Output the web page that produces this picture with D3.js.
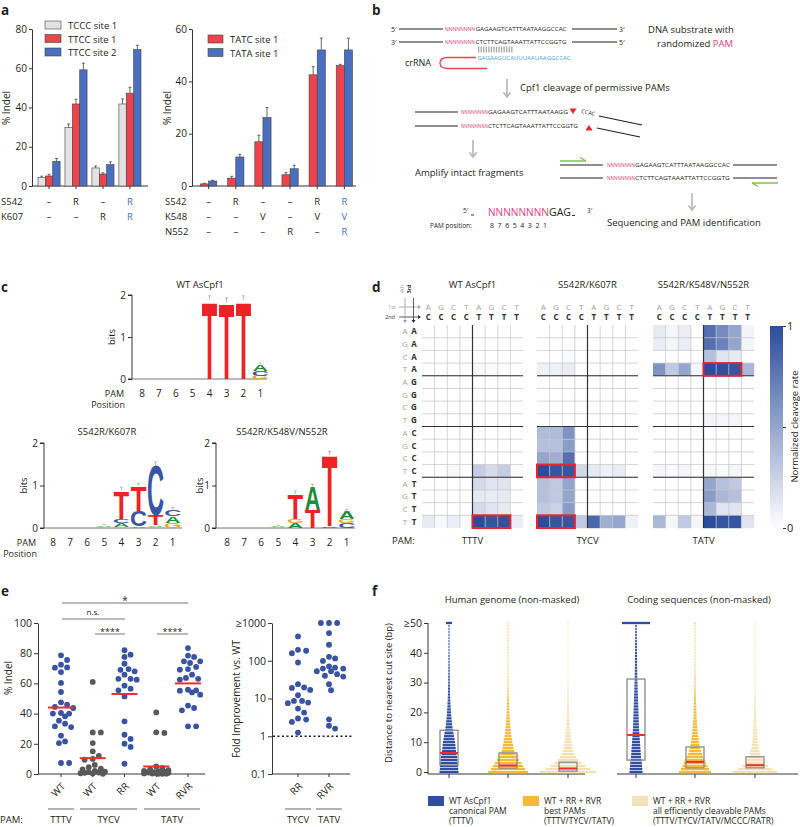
<!DOCTYPE html>
<html><head><meta charset="utf-8">
<script src="https://d3js.org/d3.v7.min.js"></script>
<style>html,body{margin:0;padding:0;background:#fff}svg{display:block}</style>
</head><body>
<svg id="fig" width="800" height="827" xmlns="http://www.w3.org/2000/svg"></svg>
<script>
// ================= DATA =================
// Panel a (left)
const aLeftGroups = ["WT", "S542R", "K607R", "S542R/K607R"];
const aLeftSeries = ["TCCC site 1", "TTCC site 1", "TTCC site 2"];
const aLeftTCCC1 = [4.3, 29.9, 9.2, 41.8];
const aLeftTTCC1 = [5.1, 41.8, 6.1, 47.3];
const aLeftTTCC2 = [12.6, 59.2, 10.9, 69.5];
const aLeftErrTCCC1 = [0.7, 1.7, 1.0, 2.6];
const aLeftErrTTCC1 = [0.9, 2.4, 0.6, 3.0];
const aLeftErrTTCC2 = [1.4, 3.4, 1.4, 2.2];
const aLeftTicks = [0, 20, 40, 60, 80];
const aLeftRowNames = ["S542", "K607"];
const aLeftS542 = ["–", "R", "–", "R"];
const aLeftK607 = ["–", "–", "R", "R"];
// Panel a (right)
const aRightGroups = ["WT", "S542R", "K548V", "N552R", "S542R/K548V", "S542R/K548V/N552R"];
const aRightSeries = ["TATC site 1", "TATA site 1"];
const aRightTATC = [0.8, 3.0, 16.9, 4.3, 42.5, 46.0];
const aRightTATA = [1.9, 11.1, 26.2, 6.6, 52.0, 52.0];
const aRightErrTATC = [0.2, 0.7, 2.5, 0.8, 3.1, 0.5];
const aRightErrTATA = [0.3, 1.0, 3.8, 1.3, 4.5, 4.5];
const aRightTicks = [0, 20, 40, 60];
const aRightRowNames = ["S542", "K548", "N552"];
const aRightS542 = ["–", "R", "–", "–", "R", "R"];
const aRightK548 = ["–", "–", "V", "–", "V", "V"];
const aRightN552 = ["–", "–", "–", "R", "–", "R"];

// Panel b (schematic sequences)
const seqTop = "GAGAAGTCATTTAATAAGGCCAC";
const seqBottom = "CTCTTCAGTAAATTATTCCGGTG";
const seqCrRNA = "GAGAAGUCAUUUAAUAAGGCCAC";
const seqCutTop = "GAGAAGTCATTTAATAAGG";
const seqCutOver = "CCAC";
const pamN = "NNNNNNNN";
const pamPositionLabels = ["8", "7", "6", "5", "4", "3", "2", "1"];

// Panel c (sequence logos), stacks bottom -> top : [letter, bits]
const logoPositions = ["8", "7", "6", "5", "4", "3", "2", "1"];
const logoTicks = [0, 1, 2];
const logoWT = [[], [], [], [["G", 0.01]], [["T", 1.88]], [["T", 1.83]], [["T", 1.88]],
  [["G", 0.08], ["C", 0.12], ["A", 0.15]]];
const logoRR = [[["G", 0.01]], [["G", 0.01]], [["G", 0.01]], [["G", 0.03], ["A", 0.03]],
  [["G", 0.02], ["A", 0.1], ["C", 0.1], ["T", 0.66]],
  [["G", 0.01], ["A", 0.03], ["C", 0.37], ["T", 0.59]],
  [["G", 0.02], ["A", 0.04], ["T", 0.24], ["C", 1.17]],
  [["G", 0.12], ["A", 0.16], ["C", 0.15]]];
const logoRVR = [[["G", 0.01]], [["G", 0.01]], [["G", 0.01]], [["G", 0.02], ["A", 0.02]],
  [["A", 0.12], ["G", 0.1], ["T", 0.58]],
  [["T", 0.43], ["A", 0.55]],
  [["C", 0.04], ["T", 1.68]],
  [["C", 0.12], ["G", 0.1], ["A", 0.17]]];
const logoErrWT = [0, 0, 0, 0, 0.1, 0.1, 0.1, 0.03];
const logoErrRR = [0, 0, 0, 0.02, 0.08, 0.05, 0.08, 0.05];
const logoErrRVR = [0, 0, 0, 0.02, 0.07, 0.05, 0.08, 0.05];

// Panel d (heatmaps) rows = 4th/3rd, cols = 1st/2nd
const dCol1st = ["A", "G", "C", "T", "A", "G", "C", "T"];
const dCol2nd = ["C", "C", "C", "C", "T", "T", "T", "T"];
const dRow4th = ["A", "G", "C", "T", "A", "G", "C", "T", "A", "G", "C", "T", "A", "G", "C", "T"];
const dRow3rd = ["A", "A", "A", "A", "G", "G", "G", "G", "C", "C", "C", "C", "T", "T", "T", "T"];
const dTitles = ["WT AsCpf1", "S542R/K607R", "S542R/K548V/N552R"];
const dPams = ["TTTV", "TYCV", "TATV"];
const heatWT = [
  [0, 0, 0, 0, 0, 0, 0, 0], [0, 0, 0, 0, 0, 0, 0, 0], [0, 0, 0, 0, 0, 0, 0, 0],
  [0, 0, 0, 0, 0.03, 0.03, 0.02, 0],
  [0, 0, 0, 0, 0, 0, 0, 0], [0, 0, 0, 0, 0, 0, 0, 0], [0, 0, 0, 0, 0, 0, 0, 0], [0, 0, 0, 0, 0, 0, 0, 0],
  [0, 0, 0, 0, 0, 0, 0, 0], [0, 0, 0, 0, 0, 0, 0, 0], [0, 0, 0, 0, 0, 0, 0, 0],
  [0, 0, 0.04, 0, 0.28, 0.2, 0.28, 0.02],
  [0, 0, 0, 0, 0.2, 0.15, 0.15, 0],
  [0, 0, 0, 0, 0.12, 0.1, 0.12, 0],
  [0, 0, 0, 0, 0.2, 0.15, 0.12, 0],
  [0.12, 0.04, 0.1, 0.03, 1, 0.95, 0.97, 0.1]];
const heatRR = [
  [0, 0, 0, 0, 0, 0, 0, 0], [0, 0, 0, 0, 0, 0, 0, 0], [0, 0, 0.03, 0, 0, 0, 0, 0],
  [0.08, 0.08, 0.1, 0, 0, 0, 0, 0],
  [0, 0, 0, 0, 0, 0, 0, 0], [0, 0, 0, 0, 0, 0, 0, 0], [0, 0, 0, 0, 0, 0, 0, 0], [0, 0, 0, 0, 0, 0, 0, 0],
  [0.38, 0.38, 0.6, 0, 0, 0, 0, 0],
  [0.35, 0.35, 0.55, 0, 0, 0, 0, 0],
  [0.5, 0.45, 0.8, 0, 0, 0, 0, 0],
  [1, 0.95, 0.95, 0.22, 0.12, 0.08, 0.1, 0],
  [0.35, 0.3, 0.5, 0, 0, 0, 0, 0],
  [0.35, 0.3, 0.5, 0, 0, 0, 0, 0],
  [0.3, 0.25, 0.55, 0, 0, 0, 0, 0],
  [1, 0.95, 0.95, 0.3, 0.85, 0.45, 0.5, 0.08]];
const heatRVR = [
  [0.12, 0.05, 0.1, 0, 0.8, 0.65, 0.5, 0.06],
  [0.1, 0.05, 0.1, 0, 0.8, 0.7, 0.5, 0.06],
  [0, 0, 0, 0, 0.35, 0.15, 0.12, 0],
  [0.6, 0.3, 0.5, 0.05, 1, 0.98, 0.95, 0.4],
  [0, 0, 0, 0, 0, 0, 0, 0], [0, 0, 0, 0, 0, 0, 0, 0], [0, 0, 0, 0, 0, 0, 0, 0],
  [0, 0, 0, 0, 0.06, 0.05, 0.05, 0],
  [0, 0, 0, 0, 0, 0, 0, 0], [0, 0, 0, 0, 0, 0, 0, 0], [0, 0, 0, 0, 0, 0, 0, 0],
  [0.05, 0.02, 0.05, 0, 0.05, 0.03, 0.05, 0],
  [0, 0, 0, 0, 0.5, 0.35, 0.3, 0],
  [0, 0, 0, 0, 0.55, 0.4, 0.35, 0],
  [0, 0, 0, 0, 0.4, 0.15, 0.15, 0],
  [0.4, 0.05, 0.3, 0.05, 1, 0.95, 0.95, 0.15]];
// highlighted boxes: [row, firstCol, lastCol]
const heatBoxWT = [[15, 4, 6]];
const heatBoxRR = [[11, 0, 2], [15, 0, 2]];
const heatBoxRVR = [[3, 4, 6]];

// Panel e
const eCats = ["WT", "WT ", "RR", "WT  ", "RVR"];
const eCatLabels = ["WT", "WT", "RR", "WT", "RVR"];
const ePamGroups = ["TTTV", "TYCV", "TATV"];
const eWT_TTTV = [78.6, 75.5, 72.4, 70.4, 70.6, 67.5, 60.3, 54.3, 47.5, 45.9, 44.4, 43.7, 40.4, 40, 40, 38.2, 35.3, 33.3, 31.6, 31.1, 25.4, 21.6, 20.5, 7.3, 7.3];
const eWT_TYCV = [61, 27.5, 27.5, 20.5, 15, 12, 10, 9.5, 6, 4.5, 3.5, 3, 2, 1.5, 1.2, 1, 0.8, 0.5, 0.3, 0.1];
const eRR_TYCV = [82, 79, 77.5, 73, 69.5, 69, 68, 65.8, 63, 63, 62.5, 58.5, 56.5, 55.4, 51.4, 34.9, 26, 23.2, 20.1, 17.9, 6.8];
const eWT_TATV = [40.8, 27.6, 27.2, 5, 4, 3, 2.5, 2, 1.8, 1.5, 1.2, 1, 0.8, 0.6, 0.5, 0.4, 0.3, 0.2, 0.1, 0.1];
const eRVR_TATV = [83.4, 78.4, 77.5, 74.6, 74.6, 73.5, 70.9, 69.5, 69.1, 65.8, 63.6, 63, 62.5, 55.8, 55.4, 55.2, 54, 52.5, 45.3, 43.7, 42.2, 31.6, 31.6];
const eCenterLines = [44, 10.5, 53, 5, 60];
const eTicks = [0, 20, 40, 60, 80, 100];
const foldCats = ["RR", "RVR"];
const foldPams = ["TYCV", "TATV"];
const foldRR = [442, 195, 184, 158, 90, 24, 19.7, 19.1, 16.9, 12.2, 8.6, 8.6, 7.8, 7.5, 5.4, 4.25, 2.95, 2.77, 2.4, 1.25];
const foldRVR = [1000, 1000, 1000, 540, 265, 127, 115, 99, 71, 66, 62, 62, 53, 53, 44, 40, 38, 24, 16.6, 2.8, 1.9, 1.6];
const foldTicks = [0.1, 1, 10, 100, 1000];

// Panel f : share of sites (%) per distance 0..49, last entry = >=50
const fTitles = ["Human genome (non-masked)", "Coding sequences (non-masked)"];
const fTicks = [0, 10, 20, 30, 40, 50];
const fHumanWT = [9.5, 9.2, 9, 8.7, 8.4, 8, 7.5, 7, 6.7, 6.4, 6, 5.5, 5, 4.5, 4, 3.5, 3, 2.8, 2.5, 2.2, 2, 1.8, 1.6, 1.5, 1.3, 1.2, 1.1, 1, 1, 0.9, 0.8, 0.8, 0.8, 0.7, 0.7, 0.7, 0.6, 0.6, 0.6, 0.6, 0.5, 0.5, 0.5, 0.5, 0.5, 0.5, 0.5, 0.5, 0.5, 0.5, 3];
const fHumanBest = [20, 17, 15, 13, 11, 9, 7.5, 6.5, 5.5, 5, 4.5, 4, 3.5, 3, 2.8, 2.5, 2.2, 2, 1.8, 1.5, 1.4, 1.2, 1.1, 1, 0.9, 0.8, 0.7, 0.6, 0.5, 0.5, 0.45, 0.4, 0.4, 0.35, 0.35, 0.3, 0.3, 0.3, 0.25, 0.25, 0.25, 0.2, 0.2, 0.2, 0.2, 0.2, 0.2, 0.2, 0.2, 0.2, 0.3];
const fHumanAll = [28.5, 22.5, 17.5, 13.5, 10.5, 8, 6.5, 5.5, 4.5, 4, 3.5, 3, 2.7, 2.4, 2.1, 1.9, 1.7, 1.5, 1.3, 1.2, 1.1, 1, 0.9, 0.8, 0.7, 0.6, 0.6, 0.5, 0.5, 0.45, 0.4, 0.4, 0.35, 0.35, 0.3, 0.3, 0.3, 0.25, 0.25, 0.25, 0.2, 0.2, 0.2, 0.2, 0.2, 0.2, 0.2, 0.2, 0.2, 0.2, 0.3];
const fCodingWT = [6.5, 6.3, 6, 5.8, 5.5, 5, 4.8, 4.6, 4.4, 4.2, 4, 3.8, 3.6, 3.4, 3.2, 3, 2.9, 2.8, 2.7, 2.6, 2.5, 2.4, 2.3, 2.2, 2.1, 2, 1.9, 1.8, 1.7, 1.6, 1.5, 1.4, 1.3, 1.3, 1.2, 1.2, 1.1, 1.1, 1, 1, 1, 0.9, 0.9, 0.9, 0.8, 0.8, 0.8, 0.8, 0.7, 0.7, 14];
const fCodingBest = [16, 14, 12.5, 11, 9.5, 8, 7, 6, 5.2, 4.5, 4, 3.6, 3.2, 2.9, 2.6, 2.3, 2.1, 1.9, 1.7, 1.5, 1.4, 1.3, 1.2, 1.1, 1, 0.9, 0.8, 0.7, 0.6, 0.6, 0.5, 0.5, 0.45, 0.4, 0.4, 0.35, 0.35, 0.3, 0.3, 0.3, 0.25, 0.25, 0.25, 0.2, 0.2, 0.2, 0.2, 0.2, 0.2, 0.2, 0.4];
const fCodingAll = [22.5, 17, 13, 10, 8, 6.5, 5.3, 4.4, 3.7, 3.2, 2.8, 2.5, 2.2, 2, 1.8, 1.6, 1.4, 1.3, 1.2, 1.1, 1, 0.9, 0.8, 0.7, 0.65, 0.6, 0.55, 0.5, 0.45, 0.4, 0.4, 0.35, 0.35, 0.3, 0.3, 0.3, 0.25, 0.25, 0.25, 0.2, 0.2, 0.2, 0.2, 0.2, 0.2, 0.2, 0.2, 0.2, 0.2, 0.2, 0.3];
// box stats [q1, median, q3]
const fBoxHuman = [[2.3, 6.4, 14], [1.3, 2.2, 6.4], [0.3, 1.2, 3.3]];
const fBoxCoding = [[4, 12.4, 31.2], [1.4, 3.4, 8.4], [1.4, 2.3, 5.1]];
const fLegend = [
  ["WT AsCpf1", "canonical PAM", "(TTTV)"],
  ["WT + RR + RVR", "best PAMs", "(TTTV/TYCV/TATV)"],
  ["WT + RR + RVR", "all efficiently cleavable PAMs", "(TTTV/TYCV/TATV/MCCC/RATR)"]];

// ================= DRAWING =================
const F = '"Open Sans", "Noto Sans", sans-serif';
const INK = "#231f20";
const RED = "#ee434d", BLUE = "#4a6fbe", LGRAY = "#e2e2e2";
const PINK = "#e4417e";
const svg = d3.select("#fig").attr("font-family", F);

function T(g, x, y, s, o = {}) {
  const t = g.append("text").attr("x", x).attr("y", y).text(s)
    .attr("font-size", o.fs || 10).attr("fill", o.fill || INK)
    .attr("text-anchor", o.anchor || "start");
  if (o.weight) t.attr("font-weight", o.weight);
  if (o.family) t.attr("font-family", o.family);
  if (o.rotate != null) t.attr("transform", `rotate(${o.rotate},${x},${y})`);
  if (o.len) t.attr("textLength", o.len).attr("lengthAdjust", "spacingAndGlyphs");
  return t;
}
function L(g, x1, y1, x2, y2, stroke = INK, w = 1, dash) {
  const l = g.append("line").attr("x1", x1).attr("y1", y1).attr("x2", x2).attr("y2", y2)
    .attr("stroke", stroke).attr("stroke-width", w);
  if (dash) l.attr("stroke-dasharray", dash);
  return l;
}
function styleAxis(g, fs = 10) {
  g.attr("font-family", F).attr("font-size", fs);
  g.selectAll("line,path").attr("stroke", INK).attr("stroke-width", 0.9);
  g.selectAll("text").attr("fill", INK);
}

// panel letters
[["a", 1, 15], ["b", 372, 15], ["c", 1, 292], ["d", 372, 292], ["e", 1, 596], ["f", 372, 596]].forEach(([s, x, y]) =>
  T(svg, x, y, s, { fs: 13.5, weight: "bold" }));

// ---------- Panel a left ----------
(function () {
  const g = svg.append("g");
  const y = d3.scaleLinear().domain([0, 80]).range([186, 29]);
  const x = d3.scaleBand().domain(d3.range(aLeftGroups.length)).range([38, 141]).paddingInner(0.18);
  const xs = d3.scaleBand().domain(d3.range(3)).range([0, x.bandwidth()]);
  const vals = [aLeftTCCC1, aLeftTTCC1, aLeftTTCC2];
  const errs = [aLeftErrTCCC1, aLeftErrTTCC1, aLeftErrTTCC2];
  const cols = [LGRAY, RED, BLUE];
  const ax = g.append("g").attr("transform", "translate(32,0)")
    .call(d3.axisLeft(y).tickValues(aLeftTicks).tickSize(3).tickSizeOuter(0).tickPadding(2));
  styleAxis(ax);
  L(g, 32, 186, 148, 186, INK, 0.9);
  aLeftGroups.forEach((_, i) => {
    L(g, x(i) + x.bandwidth() / 2, 186, x(i) + x.bandwidth() / 2, 189, INK, 0.9);
    vals.forEach((v, s) => {
      const bx = x(i) + xs(s), bw = xs.bandwidth();
      g.append("rect").attr("x", bx).attr("y", y(v[i])).attr("width", bw).attr("height", y(0) - y(v[i]))
        .attr("fill", cols[s]).attr("stroke", "#444").attr("stroke-width", 0.6);
      const cx = bx + bw / 2;
      L(g, cx, y(v[i]), cx, y(v[i] + errs[s][i]), "#444", 0.8);
      L(g, cx - 1.5, y(v[i] + errs[s][i]), cx + 1.5, y(v[i] + errs[s][i]), "#444", 0.8);
    });
  });
  aLeftSeries.forEach((s, k) => {
    g.append("rect").attr("x", 45).attr("y", 21 + k * 13.5).attr("width", 16).attr("height", 8)
      .attr("fill", cols[k]).attr("stroke", "#444").attr("stroke-width", 0.6);
    T(g, 68, 29 + k * 13.5, s, { fs: 9.5 });
  });
  T(g, 10, 108, "% Indel", { rotate: -90, anchor: "middle" });
  const rows = [aLeftS542, aLeftK607];
  aLeftRowNames.forEach((r, k) => {
    T(g, 1, 205 + k * 15, r, { fs: 9.5 });
    rows[k].forEach((v, i) => T(g, x(i) + x.bandwidth() / 2, 205 + k * 15, v,
      { fs: 9.5, anchor: "middle", fill: i === aLeftGroups.length - 1 ? BLUE : INK }));
  });
})();

// ---------- Panel a right ----------
(function () {
  const g = svg.append("g");
  const y = d3.scaleLinear().domain([0, 60]).range([186, 29]);
  const x = d3.scaleBand().domain(d3.range(aRightGroups.length)).range([200.5, 352.5]).paddingInner(0.4);
  const xs = d3.scaleBand().domain(d3.range(2)).range([0, x.bandwidth()]);
  const vals = [aRightTATC, aRightTATA];
  const errs = [aRightErrTATC, aRightErrTATA];
  const cols = [RED, BLUE];
  const ax = g.append("g").attr("transform", "translate(192,0)")
    .call(d3.axisLeft(y).tickValues(aRightTicks).tickSize(3).tickSizeOuter(0).tickPadding(2));
  styleAxis(ax);
  L(g, 192, 186, 356, 186, INK, 0.9);
  aRightGroups.forEach((_, i) => {
    L(g, x(i) + x.bandwidth() / 2, 186, x(i) + x.bandwidth() / 2, 189, INK, 0.9);
    vals.forEach((v, s) => {
      const bx = x(i) + xs(s), bw = xs.bandwidth();
      g.append("rect").attr("x", bx).attr("y", y(v[i])).attr("width", bw).attr("height", y(0) - y(v[i]))
        .attr("fill", cols[s]).attr("stroke", "#444").attr("stroke-width", 0.6);
      const cx = bx + bw / 2;
      L(g, cx, y(v[i]), cx, y(v[i] + errs[s][i]), "#444", 0.8);
      L(g, cx - 1.5, y(v[i] + errs[s][i]), cx + 1.5, y(v[i] + errs[s][i]), "#444", 0.8);
    });
  });
  aRightSeries.forEach((s, k) => {
    g.append("rect").attr("x", 208).attr("y", 35 + k * 13.5).attr("width", 15).attr("height", 8)
      .attr("fill", cols[k]).attr("stroke", "#444").attr("stroke-width", 0.6);
    T(g, 230, 43 + k * 13.5, s, { fs: 9.5 });
  });
  T(g, 171, 108, "% Indel", { rotate: -90, anchor: "middle" });
  const rows = [aRightS542, aRightK548, aRightN552];
  aRightRowNames.forEach((r, k) => {
    T(g, 165, 205 + k * 15, r, { fs: 9.5 });
    rows[k].forEach((v, i) => T(g, x(i) + x.bandwidth() / 2, 205 + k * 15, v,
      { fs: 9.5, anchor: "middle", fill: i === aRightGroups.length - 1 ? BLUE : INK }));
  });
})();

// ---------- Panel b ----------
(function () {
  const g = svg.append("g");
  const sf = 5.6, ARW = "#b5b5b5";
  function arrowDown(x, y1, y2) {
    L(g, x, y1, x, y2, ARW, 1.6);
    g.append("path").attr("d", `M${x - 3.5},${y2 - 4.5}L${x},${y2}L${x + 3.5},${y2 - 4.5}`)
      .attr("fill", "none").attr("stroke", ARW).attr("stroke-width", 1.6);
  }
  // substrate
  T(g, 391, 31.5, "5′", { fs: 7 }); L(g, 399, 29, 443, 29, INK, 1.2);
  T(g, 445, 31, pamN, { fs: sf, fill: PINK, len: 30 });
  T(g, 475.5, 31, seqTop, { fs: sf, len: 91 });
  L(g, 572, 29, 617, 29, INK, 1.2); T(g, 619, 31.5, "3′", { fs: 7 });
  T(g, 391, 44.5, "3′", { fs: 7 }); L(g, 399, 42, 443, 42, INK, 1.2);
  T(g, 445, 44, pamN, { fs: sf, fill: PINK, len: 30 });
  T(g, 475.5, 44, seqBottom, { fs: sf, len: 91 });
  L(g, 572, 42, 617, 42, INK, 1.2); T(g, 619, 44.5, "5′", { fs: 7 });
  d3.range(14).forEach(i => g.append("rect").attr("x", 478 + i * 2.55).attr("y", 46.5)
    .attr("width", 1.3).attr("height", 6).attr("fill", "#a8a8a8"));
  // crRNA
  T(g, 405, 66, "crRNA", { fs: 9 });
  g.append("path").attr("d", "M476,57.5L448,57.5Q440,57.5 440,63Q440,68.5 448,68.5L487,68.5")
    .attr("fill", "none").attr("stroke", RED).attr("stroke-width", 1.3);
  T(g, 477.5, 59.5, seqCrRNA, { fs: sf, fill: "#45a6df", len: 93 });
  T(g, 648, 33, "DNA substrate with", { fs: 9.5 });
  const t1 = T(g, 657, 47, "randomized ", { fs: 9.5 });
  t1.append("tspan").attr("fill", PINK).text("PAM");
  // cleavage
  arrowDown(507, 79, 97);
  T(g, 520, 91, "Cpf1 cleavage of permissive PAMs", { fs: 9.5 });
  L(g, 415, 112, 458, 112, INK, 1.2);
  T(g, 461, 114, pamN, { fs: sf, fill: PINK, len: 27 });
  T(g, 488, 114, seqCutTop, { fs: sf, len: 80 });
  g.append("path").attr("d", "M569.5,108.5L576.5,108.5L573,114Z").attr("fill", "#e4262b");
  g.append("text").attr("font-size", sf).attr("fill", INK)
    .attr("transform", "translate(581,113) rotate(12)").text(seqCutOver);
  L(g, 599, 116, 642, 125, INK, 1.2);
  L(g, 415, 126, 458, 126, INK, 1.2);
  T(g, 461, 128, pamN, { fs: sf, fill: PINK, len: 27 });
  T(g, 488, 128, seqBottom, { fs: sf, len: 90 });
  g.append("path").attr("d", "M585.5,130.5L592.5,130.5L589,125Z").attr("fill", "#e4262b");
  L(g, 597, 128, 640, 137, INK, 1.2);
  // amplify
  arrowDown(473, 140, 157);
  T(g, 415, 176, "Amplify intact fragments", { fs: 9.5 });
  const GR = "#7ac143";
  L(g, 560, 161, 586, 161, GR, 1.4);
  L(g, 586, 161, 580, 157.5, GR, 1.4);
  L(g, 560, 165, 603, 165, INK, 1.2);
  T(g, 607, 167, pamN, { fs: sf - 0.6, fill: PINK, len: 28 });
  T(g, 635, 167, seqTop, { fs: sf - 0.6, len: 95 });
  L(g, 733, 165, 777, 165, INK, 1.2);
  L(g, 560, 178, 603, 178, INK, 1.2);
  T(g, 607, 180, pamN, { fs: sf - 0.6, fill: PINK, len: 28 });
  T(g, 635, 180, seqBottom, { fs: sf - 0.6, len: 95 });
  L(g, 733, 178, 777, 178, INK, 1.2);
  L(g, 752, 183, 778, 183, GR, 1.4);
  L(g, 752, 183, 758, 186.5, GR, 1.4);
  arrowDown(692, 193, 210);
  T(g, 607, 226, "Sequencing and PAM identification", { fs: 9.5 });
  // PAM position key
  T(g, 463, 213, "5′", { fs: 6.5 });
  L(g, 471, 215, 474, 215, INK, 0.9);
  T(g, 488, 216, pamN, { fs: 11, fill: PINK, len: 61 });
  T(g, 549, 216, "GAG", { fs: 11, len: 22 });
  L(g, 572, 215.5, 575, 215.5, INK, 0.9);
  T(g, 587, 213, "3′", { fs: 6.5 });
  T(g, 430, 228, "PAM position:", { fs: 6.5 });
  const px = d3.scalePoint().domain(pamPositionLabels).range([492, 545]);
  pamPositionLabels.forEach(p => T(g, px(p), 228, p, { fs: 7, anchor: "middle" }));
})();

// ---------- Panel c ----------
const LOGO = { T: "#ed2224", C: "#3955a5", A: "#1b8e3b", G: "#f6a21b" };
const INKW = { T: 6.0, A: 7.1, C: 6.5, G: 6.9 };
function drawLogo(cfg, data, errs) {
  const g = svg.append("g");
  const y = d3.scaleLinear().domain([0, 2]).range([cfg.y0, cfg.y0 - 2 * cfg.ppb]);
  const x = d3.scalePoint().domain(logoPositions).range([cfg.x0, cfg.x0 + 7 * cfg.step]);
  const ax = g.append("g").attr("transform", `translate(${cfg.ax},0)`)
    .call(d3.axisLeft(y).tickValues(logoTicks).tickFormat(d3.format("d")).tickSize(4).tickSizeOuter(0).tickPadding(2));
  styleAxis(ax);
  ax.select(".domain").attr("d", `M-4,${y(0)}H0V${y(2)}H-4`);
  L(g, cfg.ax, cfg.y0, cfg.xEnd, cfg.y0, "#666", 0.9);
  const w = cfg.step * 0.9;
  data.forEach((stack, i) => {
    const cx = x(logoPositions[i]);
    let base = 0;
    stack.forEach(([l, h]) => {
      const hp = y(base) - y(base + h);
      g.append("text").text(l).attr("font-family", '"Liberation Sans", Arial, sans-serif')
        .attr("font-weight", "bold").attr("font-size", 10).attr("text-anchor", "middle")
        .attr("fill", LOGO[l])
        .attr("transform", `translate(${cx},${y(base)}) scale(${w / INKW[l]},${hp / 7.16})`);
      base += h;
    });
    if (errs[i] > 0) {
      L(g, cx, y(base), cx, y(base + errs[i]), "#aaa", 0.8);
      L(g, cx - 1.5, y(base + errs[i]), cx + 1.5, y(base + errs[i]), "#aaa", 0.8);
    }
    T(g, cx, cfg.y0 + 18, logoPositions[i], { fs: 10, anchor: "middle" });
  });
  T(g, cfg.tx, cfg.ty, cfg.title, { fs: 9.5, anchor: "middle" });
  T(g, cfg.bx, (cfg.y0 + y(2)) / 2, "bits", { rotate: -90, anchor: "middle", fs: 9.5 });
  if (cfg.pam) {
    T(g, cfg.ax - 8, cfg.y0 + 18, "PAM", { fs: 9, anchor: "end" });
    T(g, cfg.ax - 7, cfg.y0 + 29, "Position", { fs: 9, anchor: "end" });
  }
}
drawLogo({ y0: 379, ppb: 42, ax: 132, x0: 142, step: 16.9, xEnd: 267, title: "WT AsCpf1", tx: 200, ty: 288, bx: 115, pam: true }, logoWT, logoErrWT);
drawLogo({ y0: 528, ppb: 42.5, ax: 44, x0: 53, step: 17.1, xEnd: 182, title: "S542R/K607R", tx: 107, ty: 435, bx: 27, pam: true }, logoRR, logoErrRR);
drawLogo({ y0: 528, ppb: 42.5, ax: 216, x0: 227, step: 17.1, xEnd: 355, title: "S542R/K548V/N552R", tx: 282, ty: 435, bx: 203, pam: false }, logoRVR, logoErrRVR);

// ---------- Panel d ----------
(function () {
  const g = svg.append("g");
  const HB = "#2b4c9c";
  const col = d3.scaleLinear().domain([0, 1]).range(["#ffffff", HB]).interpolate(d3.interpolateRgb);
  const x0s = [422, 537, 653];
  const top = 325, bottom = 528;
  const heats = [heatWT, heatRR, heatRVR];
  const boxes = [heatBoxWT, heatBoxRR, heatBoxRVR];
  const yb = d3.scaleBand().domain(d3.range(16)).range([top, bottom]);
  heats.forEach((H, k) => {
    const xb = d3.scaleBand().domain(d3.range(8)).range([x0s[k], x0s[k] + 101]);
    const gg = g.append("g");
    H.forEach((row, r) => row.forEach((v, c) => {
      gg.append("rect").attr("x", xb(c)).attr("y", yb(r)).attr("width", xb.bandwidth() + 0.2)
        .attr("height", yb.bandwidth() + 0.2).attr("fill", col(v));
    }));
    d3.range(1, 8).forEach(c => L(gg, xb(c), top, xb(c), bottom, "#c4c4c4", 0.7));
    d3.range(1, 16).forEach(r => L(gg, xb(0), yb(r), xb(7) + xb.bandwidth(), yb(r), "#c4c4c4", 0.7));
    L(gg, xb(4), top, xb(4), bottom, "#333", 1.2);
    [4, 8, 12].forEach(r => L(gg, xb(0), yb(r), xb(7) + xb.bandwidth(), yb(r), "#333", 1.2));
    boxes[k].forEach(([r, c1, c2]) => gg.append("rect").attr("x", xb(c1)).attr("y", yb(r))
      .attr("width", xb(c2) + xb.bandwidth() - xb(c1)).attr("height", yb.bandwidth())
      .attr("fill", "none").attr("stroke", "#e4262b").attr("stroke-width", 2));
    dCol1st.forEach((s, c) => T(gg, xb(c) + xb.bandwidth() / 2, 310, s, { fs: 8, anchor: "middle", fill: "#a0a0a0" }));
    dCol2nd.forEach((s, c) => T(gg, xb(c) + xb.bandwidth() / 2, 320, s, { fs: 8, anchor: "middle", weight: "bold", fill: "#333" }));
    T(gg, x0s[k] + 50.5, 288, dTitles[k], { fs: 9.5, anchor: "middle" });
    T(gg, x0s[k] + 50.5, 544, dPams[k], { fs: 9.5, anchor: "middle" });
  });
  dRow4th.forEach((s, r) => T(g, 405, yb(r) + yb.bandwidth() / 2 + 3, s, { fs: 8, anchor: "middle", fill: "#a0a0a0" }));
  dRow3rd.forEach((s, r) => T(g, 414, yb(r) + yb.bandwidth() / 2 + 3, s, { fs: 8, anchor: "middle", weight: "bold", fill: "#333" }));
  T(g, 392, 544, "PAM:", { fs: 9.5 });
  // corner key
  T(g, 388, 309, "1st", { fs: 5.5, fill: "#a0a0a0" });
  T(g, 385, 319, "2nd", { fs: 5.5, fill: "#333" });
  T(g, 403.5, 289, "4th", { fs: 5.5, fill: "#a0a0a0", rotate: -90, anchor: "middle" });
  T(g, 410.5, 289, "3rd", { fs: 5.5, fill: "#333", rotate: -90, anchor: "middle", weight: "bold" });
  L(g, 399, 307, 419, 307, "#a0a0a0", 0.8);
  g.append("path").attr("d", "M418,305L421,307L418,309Z").attr("fill", "#a0a0a0");
  L(g, 399, 317, 419, 317, "#333", 0.8);
  g.append("path").attr("d", "M418,315L421,317L418,319Z").attr("fill", "#333");
  L(g, 405, 298, 405, 321, "#a0a0a0", 0.8);
  g.append("path").attr("d", "M403,320L405,323L407,320Z").attr("fill", "#a0a0a0");
  L(g, 413.5, 298, 413.5, 321, "#333", 0.8);
  g.append("path").attr("d", "M411.5,320L413.5,323L415.5,320Z").attr("fill", "#333");
  // colour bar
  const defs = svg.append("defs");
  const lg = defs.append("linearGradient").attr("id", "hgrad").attr("x1", 0).attr("y1", 1).attr("x2", 0).attr("y2", 0);
  [0, 0.25, 0.5, 0.75, 1].forEach(t => lg.append("stop").attr("offset", t).attr("stop-color", col(t)));
  const cy = d3.scaleLinear().domain([0, 1]).range([bottom, top + 1]);
  g.append("rect").attr("x", 770).attr("y", cy(1)).attr("width", 13).attr("height", cy(0) - cy(1)).attr("fill", "url(#hgrad)");
  const cax = g.append("g").attr("transform", "translate(783,0)")
    .call(d3.axisRight(cy).tickValues([0, 0.5, 1]).tickFormat(d => d === 0.5 ? "" : d).tickSize(3).tickSizeOuter(0).tickPadding(1));
  styleAxis(cax, 11);
  cax.select(".domain").remove();
  T(g, 798, (top + bottom) / 2, "Normalized cleavage rate", { rotate: -90, anchor: "middle", fs: 9.5 });
})();

// ---------- Panel e ----------
function swarm(vals, yScale, cx, r, maxHalf) {
  const pts = vals.map(v => ({ v, y: yScale(v) })).sort((a, b) => a.y - b.y);
  const placed = [];
  const cands = [0];
  for (let k = 1; k < 30; k++) { cands.push(k * r * 0.7, -k * r * 0.7); }
  pts.forEach(p => {
    let best = null, bestOv = 1e9;
    for (const dx of cands) {
      if (Math.abs(dx) > maxHalf) continue;
      let ov = 0;
      placed.forEach(q => { const d = Math.hypot(q.dx - dx, q.y - p.y); if (d < 2 * r + 0.4) ov = Math.max(ov, 2 * r + 0.4 - d); });
      if (ov === 0) { best = dx; break; }
      if (ov < bestOv) { bestOv = ov; best = dx; }
    }
    p.dx = best; p.x = cx + best; placed.push(p);
  });
  return pts;
}
(function () {
  const g = svg.append("g");
  const y = d3.scaleLinear().domain([0, 100]).range([774, 623]);
  const x = d3.scalePoint().domain(eCats).range([61, 188]);
  const ax = g.append("g").attr("transform", "translate(38,0)")
    .call(d3.axisLeft(y).tickValues(eTicks).tickSize(4).tickSizeOuter(0).tickPadding(2));
  styleAxis(ax, 10.5);
  L(g, 38, 774, 205, 774, INK, 0.9);
  const sets = [eWT_TTTV, eWT_TYCV, eRR_TYCV, eWT_TATV, eRVR_TATV];
  const colors = ["#3853a4", "#58595b", "#3853a4", "#58595b", "#3853a4"];
  sets.forEach((vals, i) => {
    const cx = x(eCats[i]);
    L(g, cx, 774, cx, 777, INK, 0.9);
    swarm(vals, y, cx, 2.9, 14).forEach(p => g.append("circle").attr("cx", p.x).attr("cy", p.y).attr("r", 2.9).attr("fill", colors[i]));
    L(g, cx - 13, y(eCenterLines[i]), cx + 13, y(eCenterLines[i]), "#ee2e2e", 2);
    g.append("text").text(eCatLabels[i]).attr("font-size", 10).attr("text-anchor", "end").attr("fill", INK)
      .attr("transform", `translate(${cx + 5},${787}) rotate(-45)`);
  });
  // significance
  const SG = "#777";
  L(g, 62, 603, 188, 603, SG, 1); T(g, 125, 604, "*", { fs: 10, anchor: "middle" });
  L(g, 62, 619, 125, 619, SG, 1); T(g, 93, 615, "n.s.", { fs: 8, anchor: "middle" });
  L(g, 95, 634, 125, 634, SG, 1); T(g, 110, 635, "****", { fs: 9, anchor: "middle" });
  L(g, 157, 634, 188, 634, SG, 1); T(g, 172.5, 635, "****", { fs: 9, anchor: "middle" });
  // pam groups
  const br = [[48, 74], [80, 137], [144, 200]];
  ePamGroups.forEach((p, k) => {
    L(g, br[k][0], 809, br[k][1], 809, "#555", 0.9);
    T(g, (br[k][0] + br[k][1]) / 2, 823, p, { fs: 9.5, anchor: "middle" });
  });
  T(g, 0, 823, "PAM:", { fs: 9.5 });
  T(g, 12, 678, "% Indel", { rotate: -90, anchor: "middle" });

  // fold improvement
  const yl = d3.scaleLog().domain([0.1, 1000]).range([774, 623]);
  const xf = d3.scalePoint().domain(foldCats).range([298, 329]);
  const ax2 = g.append("g").attr("transform", "translate(272,0)")
    .call(d3.axisLeft(yl).tickValues(foldTicks).tickFormat(d => d === 1000 ? "≥1000" : (d < 1 ? "0.1" : d3.format("d")(d)))
      .tickSize(4).tickSizeOuter(0).tickPadding(2));
  styleAxis(ax2, 10.5);
  L(g, 272, 774, 350, 774, INK, 0.9);
  L(g, 273, yl(1), 352, yl(1), INK, 1.6, "2,2.5");
  [foldRR, foldRVR].forEach((vals, i) => {
    const cx = xf(foldCats[i]);
    L(g, cx, 774, cx, 777, INK, 0.9);
    swarm(vals, yl, cx, 2.9, 15).forEach(p => g.append("circle").attr("cx", p.x).attr("cy", p.y).attr("r", 2.9).attr("fill", "#3853a4"));
    g.append("text").text(foldCats[i]).attr("font-size", 10).attr("text-anchor", "end").attr("fill", INK)
      .attr("transform", `translate(${cx + 5},${787}) rotate(-45)`);
  });
  const br2 = [[285, 311], [316, 342]];
  foldPams.forEach((p, k) => {
    L(g, br2[k][0], 809, br2[k][1], 809, "#555", 0.9);
    T(g, (br2[k][0] + br2[k][1]) / 2, 823, p, { fs: 9.5, anchor: "middle" });
  });
  T(g, 240, 699, "Fold Improvement vs. WT", { rotate: -90, anchor: "middle" });
})();

// ---------- Panel f ----------
(function () {
  const g = svg.append("g");
  const y = d3.scaleLinear().domain([0, 50]).range([772, 623]);
  const wScale = d3.scaleLinear().domain([0, 10]).range([0, 20]);
  const FB = "#2f4ea3", FY = "#f2bb36", FBe = "#f3e2b4";
  const ax = g.append("g").attr("transform", "translate(428,0)")
    .call(d3.axisLeft(y).tickValues(fTicks).tickFormat(d => d === 50 ? "≥50" : d).tickSize(4).tickSizeOuter(0).tickPadding(2));
  styleAxis(ax, 10.5);
  ax.select(".domain").attr("d", `M0,774V${y(50)}`);
  L(g, 428, 774, 585, 774, INK, 0.9);
  L(g, 617, 774, 798, 774, INK, 0.9);
  const groups = [
    { cx: 449, d: fHumanWT, c: FB, b: fBoxHuman[0] },
    { cx: 508, d: fHumanBest, c: FY, b: fBoxHuman[1] },
    { cx: 568, d: fHumanAll, c: FBe, b: fBoxHuman[2] },
    { cx: 636, d: fCodingWT, c: FB, b: fBoxCoding[0] },
    { cx: 695, d: fCodingBest, c: FY, b: fBoxCoding[1] },
    { cx: 755, d: fCodingAll, c: FBe, b: fBoxCoding[2] }];
  groups.forEach(G => {
    L(g, G.cx, 774, G.cx, 778, INK, 0.9);
    G.d.forEach((v, d) => {
      const w = Math.max(wScale(v), 0.6);
      g.append("rect").attr("x", G.cx - w / 2).attr("y", y(d) - 1.15).attr("width", w).attr("height", 2.3).attr("fill", G.c);
    });
    g.append("rect").attr("x", G.cx - 9).attr("y", y(G.b[2])).attr("width", 18).attr("height", y(G.b[0]) - y(G.b[2]))
      .attr("fill", "none").attr("stroke", "#8a8a8a").attr("stroke-width", 1.3);
    L(g, G.cx - 9, y(G.b[1]), G.cx + 9, y(G.b[1]), "#ee2e2e", 2);
  });
  T(g, 512, 603, fTitles[0], { fs: 9.5, anchor: "middle" });
  T(g, 699, 603, fTitles[1], { fs: 9.5, anchor: "middle" });
  T(g, 392, 693, "Distance to nearest cut site (bp)", { rotate: -90, anchor: "middle", fs: 9.5 });
  const lx = [428, 523, 632], cols = [FB, FY, FBe];
  fLegend.forEach((lines, k) => {
    g.append("rect").attr("x", lx[k]).attr("y", 796).attr("width", 16).attr("height", 10).attr("fill", cols[k]);
    lines.forEach((s, j) => T(g, lx[k] + 21, 804 + j * 10, s, { fs: 8.5 }));
  });
})();
</script>
</body></html>
